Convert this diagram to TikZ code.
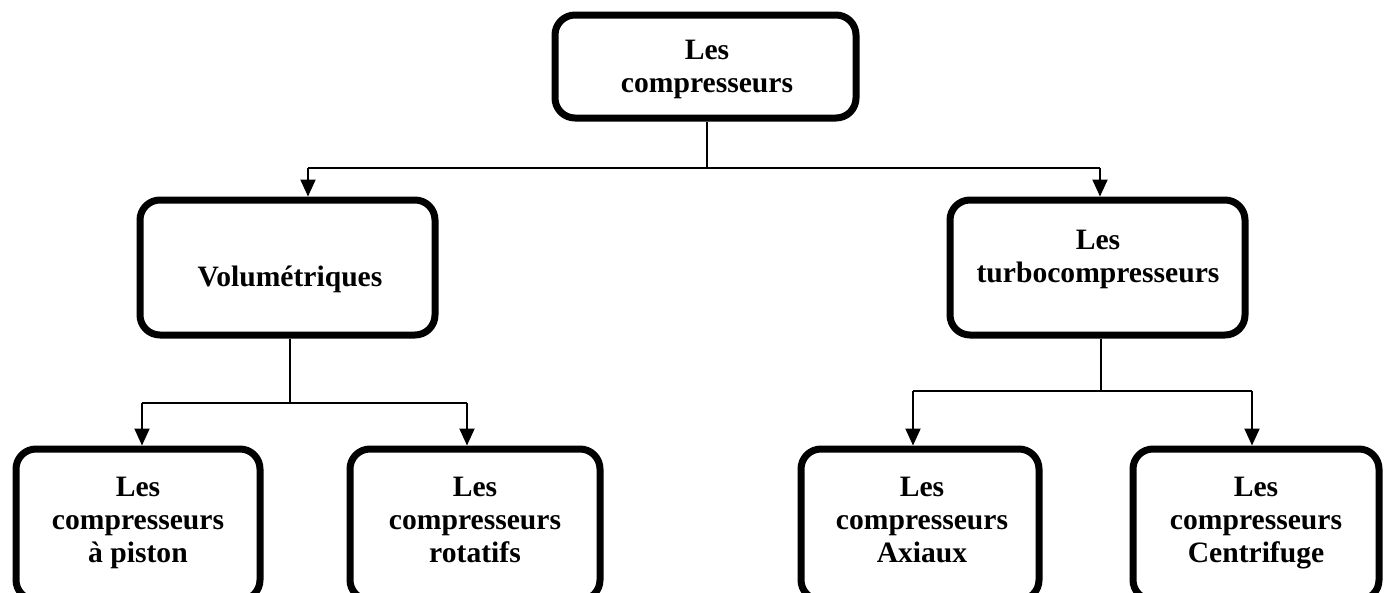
\documentclass[tikz,border=0pt]{standalone}
\usepackage{fontspec}
\setmainfont{Liberation Serif}
\usetikzlibrary{arrows.meta,calc}
\begin{document}
\begin{tikzpicture}[x=1pt,y=-1pt,
  box/.style={draw,line width=7pt,rounded corners=20pt,inner sep=0pt},
  txt/.style={align=center,font=\bfseries\fontsize{29.6}{33}\selectfont,inner sep=0pt,
    execute at begin node=\strut,execute at end node=\strut},
  link/.style={line width=2pt},
  arr/.style={line width=2pt,-{Triangle[length=17pt,width=15pt]}}]
  % page frame
  \clip (0,0) rectangle (1387,592);
  \fill[white] (0,0) rectangle (1387,592);

  % boxes
  \node[box,minimum width=301pt,minimum height=103pt] (top) at (705.5,66.5) {};
  \node[box,minimum width=295pt,minimum height=135pt] (vol) at (287.5,267.5) {};
  \node[box,minimum width=295pt,minimum height=135pt] (turbo) at (1097.5,267.5) {};
  \node[box,minimum width=244pt,minimum height=151pt] (piston) at (138,524.5) {};
  \node[box,minimum width=250pt,minimum height=151pt] (rot) at (475,524.5) {};
  \node[box,minimum width=238pt,minimum height=151pt] (axi) at (920,524.5) {};
  \node[box,minimum width=246pt,minimum height=151pt] (cent) at (1256,524.5) {};

  % labels
  \node[txt] (ttop) at (707,71) {Les\\compresseurs};
  \node[txt] (tvol) at (290,280) {Volumétriques};
  \node[txt] (tturbo) at (1098,261) {Les\\turbocompresseurs};
  \node[txt] (tpiston) at (138,525) {Les\\compresseurs\\à piston};
  \node[txt] (trot) at (475,525) {Les\\compresseurs\\rotatifs};
  \node[txt] (taxi) at (922,525) {Les\\compresseurs\\Axiaux};
  \node[txt] (tcent) at (1256,525) {Les\\compresseurs\\Centrifuge};

  % first level
  \coordinate (j0) at (707,168);
  \coordinate (a1) at (308,168);
  \coordinate (a2) at (1100,168);
  \draw[link] (top.south -| j0) -- (j0);
  \draw[link] (a1) -- (a2);
  \draw[arr] (a1) -- (a1 |- vol.north);
  \draw[arr] (a2) -- (a2 |- turbo.north);

  % second level, left
  \coordinate (j1) at (290,403);
  \coordinate (b1) at (142,403);
  \coordinate (b2) at (467,403);
  \draw[link] (vol.south -| j1) -- (j1);
  \draw[link] (b1) -- (b2);
  \draw[arr] (b1) -- (b1 |- piston.north);
  \draw[arr] (b2) -- (b2 |- rot.north);

  % second level, right
  \coordinate (j2) at (1101,391);
  \coordinate (c1) at (913,391);
  \coordinate (c2) at (1252,391);
  \draw[link] (turbo.south -| j2) -- (j2);
  \draw[link] (c1) -- (c2);
  \draw[arr] (c1) -- (c1 |- axi.north);
  \draw[arr] (c2) -- (c2 |- cent.north);
\end{tikzpicture}
\end{document}
